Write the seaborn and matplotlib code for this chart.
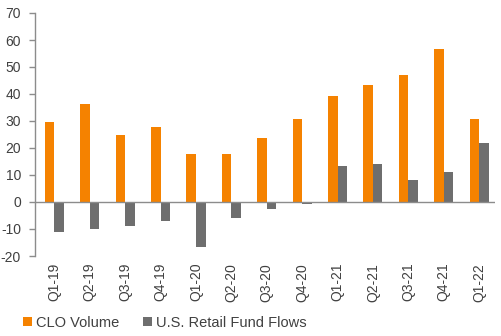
import matplotlib
matplotlib.use("Agg")
import matplotlib.pyplot as plt
import seaborn as sns
import pandas as pd
from matplotlib.patches import Patch

quarters = ["Q1-19", "Q2-19", "Q3-19", "Q4-19", "Q1-20", "Q2-20", "Q3-20",
            "Q4-20", "Q1-21", "Q2-21", "Q3-21", "Q4-21", "Q1-22"]
clo_volume = [29.5, 36.2, 24.8, 27.8, 17.7, 17.7, 23.7, 30.7, 39.1, 43.3, 46.9, 56.5, 30.7]
retail_flows = [-11.2, -10.0, -8.8, -7.0, -16.5, -5.8, -2.7, -0.6, 13.4, 14.1, 8.1, 11.1, 21.9]
series_names = ["CLO Volume", "U.S. Retail Fund Flows"]
colors = ["#F58200", "#6E6E6E"]
y_ticks = [-20, -10, 0, 10, 20, 30, 40, 50, 60, 70]

df = pd.DataFrame({
    "quarter": quarters * 2,
    "value": clo_volume + retail_flows,
    "series": [series_names[0]] * len(quarters) + [series_names[1]] * len(quarters),
})

sns.set_style("white")
plt.rcParams["font.family"] = ["Liberation Sans", "DejaVu Sans"]
plt.rcParams["axes.unicode_minus"] = False
text_color = "#404040"

fig = plt.figure(figsize=(5.02, 3.36), dpi=100)
ax = fig.add_axes([35 / 502, 1 - 256 / 336, 460 / 502, 243 / 336])
sns.barplot(data=df, x="quarter", y="value", hue="series", order=quarters,
            hue_order=series_names, palette=colors, width=0.54, linewidth=0,
            saturation=1, ax=ax, legend=False)

ax.set_ylim(-20, 70)
ax.set_xlim(-0.55, 12.45)
ax.set_yticks(y_ticks)
ax.set_xlabel("")
ax.set_ylabel("")
for s in ["top", "right", "bottom"]:
    ax.spines[s].set_visible(False)
ax.spines["left"].set_color("#8C8C8C")
ax.spines["left"].set_linewidth(1.0)
ax.axhline(0, color="#8C8C8C", linewidth=1.0, zorder=1)
ax.tick_params(axis="y", which="major", left=True, length=4, width=1,
               color="#8C8C8C", labelsize=10, labelcolor=text_color, pad=6)
ax.tick_params(axis="x", bottom=False, labelbottom=False)

for i, q in enumerate(quarters):
    ax.text(i, -22.5, q, rotation=90, ha="center", va="top", fontsize=10,
            color=text_color)

handles = [Patch(facecolor=c, edgecolor="none") for c in colors]
fig.legend(handles, series_names, loc="center left", bbox_to_anchor=(23 / 502, 0.04),
           ncol=2, frameon=False, fontsize=10.5, handlelength=0.65, handleheight=0.65,
           handletextpad=0.25, columnspacing=1.6, labelcolor=text_color,
           borderpad=0, borderaxespad=0)

fig.savefig("out.png", dpi=100)
